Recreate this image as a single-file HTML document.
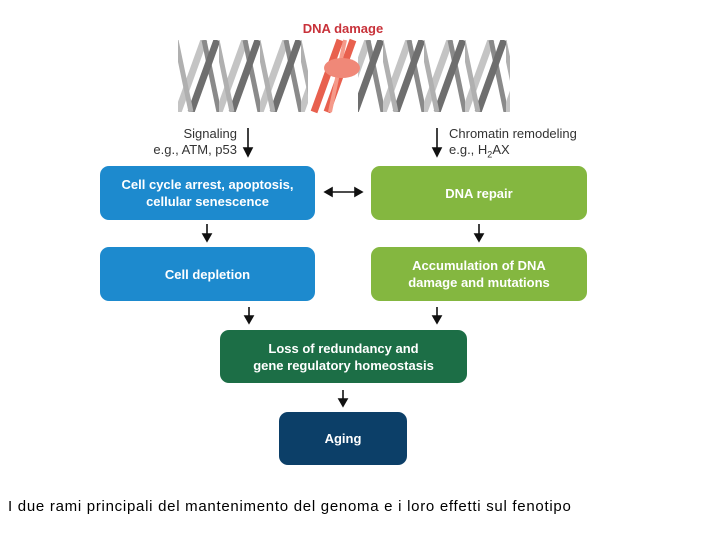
<!DOCTYPE html>
<html><head><meta charset="utf-8"><style>
body{margin:0;width:720px;height:540px;background:#fff;position:relative;overflow:hidden;font-family:"Liberation Sans",sans-serif}
.b{position:absolute;border-radius:9px;color:#fff;font-weight:bold;font-size:13px;display:flex;align-items:center;justify-content:center;text-align:center;line-height:17px}
.t{position:absolute;font-size:13px;color:#333;line-height:16px}
</style></head><body>
<svg width="720" height="540" style="position:absolute;left:0;top:0">
<defs>
<pattern id="p" patternUnits="userSpaceOnUse" x="178" y="40" width="41" height="72">
<line x1="0" y1="72" x2="26" y2="0" stroke="#c4c4c4" stroke-width="7"/>
<line x1="26" y1="0" x2="41" y2="72" stroke="#8a8a8a" stroke-width="5"/>
<line x1="13" y1="72" x2="39" y2="0" stroke="#6e6e6e" stroke-width="7"/>
<line x1="-2" y1="0" x2="13" y2="72" stroke="#b0b0b0" stroke-width="5"/>
</pattern>
</defs>
<rect x="178" y="40" width="332" height="72" fill="url(#p)"/>
<rect x="308" y="40" width="50" height="72" fill="#fff"/>
<g stroke="#e8604e" stroke-width="7" fill="none">
<line x1="314" y1="112" x2="340" y2="40"/>
<line x1="327" y1="112" x2="353" y2="40"/>
</g>
<g stroke="#f59a8a" stroke-width="4"><line x1="330" y1="112" x2="345" y2="40"/></g>
<ellipse cx="342" cy="68" rx="18" ry="10" fill="#f08878"/>
<text x="343" y="33" text-anchor="middle" font-family="Liberation Sans" font-weight="bold" font-size="13" fill="#c8323a">DNA damage</text>
<g stroke="#111" stroke-width="1.6" fill="#111">
<line x1="248" y1="128" x2="248" y2="150"/><path d="M244 148 L252 148 L248 156Z"/>
<line x1="437" y1="128" x2="437" y2="150"/><path d="M433 148 L441 148 L437 156Z"/>
<line x1="207" y1="224" x2="207" y2="236"/><path d="M203 234 L211 234 L207 241Z"/>
<line x1="479" y1="224" x2="479" y2="236"/><path d="M475 234 L483 234 L479 241Z"/>
<line x1="249" y1="307" x2="249" y2="318"/><path d="M245 316 L253 316 L249 323Z"/>
<line x1="437" y1="307" x2="437" y2="318"/><path d="M433 316 L441 316 L437 323Z"/>
<line x1="343" y1="390" x2="343" y2="401"/><path d="M339 399 L347 399 L343 406Z"/>
<line x1="331" y1="192" x2="356" y2="192"/><path d="M332 188 L332 196 L325 192Z"/><path d="M355 188 L355 196 L362 192Z"/>
</g>
</svg>
<div class="t" style="right:483px;top:126px;text-align:right">Signaling<br>e.g., ATM, p53</div>
<div class="t" style="left:449px;top:126px">Chromatin remodeling<br>e.g., H<sub style="font-size:9px">2</sub>AX</div>
<div class="b" style="left:100px;top:166px;width:215px;height:54px;background:#1d8ace">Cell cycle arrest, apoptosis,<br>cellular senescence</div>
<div class="b" style="left:371px;top:166px;width:216px;height:54px;background:#84b740">DNA repair</div>
<div class="b" style="left:100px;top:247px;width:215px;height:54px;background:#1d8ace">Cell depletion</div>
<div class="b" style="left:371px;top:247px;width:216px;height:54px;background:#84b740">Accumulation of DNA<br>damage and mutations</div>
<div class="b" style="left:220px;top:330px;width:247px;height:53px;background:#1c6e46">Loss of redundancy and<br>gene regulatory homeostasis</div>
<div class="b" style="left:279px;top:412px;width:128px;height:53px;background:#0c3f68">Aging</div>
<div style="position:absolute;left:8px;top:498px;font-size:15px;letter-spacing:0.72px;color:#000;font-family:'Liberation Sans',sans-serif;white-space:nowrap">I due rami principali del mantenimento del genoma e i loro effetti sul fenotipo</div>
</body></html>
